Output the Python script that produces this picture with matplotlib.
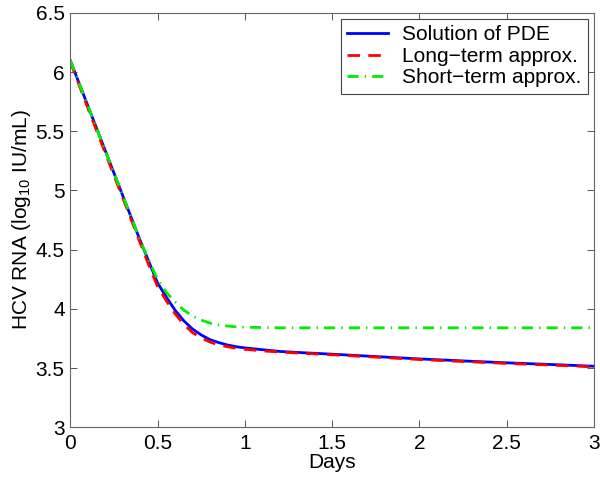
import matplotlib
matplotlib.use("Agg")
import matplotlib.pyplot as plt

plt.rcParams['font.family'] = ['Liberation Sans', 'DejaVu Sans']
plt.rcParams['mathtext.default'] = 'regular'

t = [0, 0.1, 0.2, 0.3, 0.4, 0.45, 0.5, 0.55, 0.6, 0.65, 0.7, 0.75, 0.8, 0.85,
     0.9, 0.95, 1.0, 1.1, 1.2, 1.35, 1.5, 1.75, 2.0, 2.25, 2.5, 2.75, 3.0]
pde = [6.10, 5.72, 5.34, 4.96, 4.58, 4.40, 4.22, 4.10, 3.99, 3.90, 3.83, 3.78,
       3.74, 3.715, 3.695, 3.68, 3.67, 3.655, 3.64, 3.628, 3.617, 3.597, 3.577,
       3.56, 3.544, 3.53, 3.515]
long_term = [6.09, 5.70, 5.32, 4.94, 4.56, 4.37, 4.19, 4.07, 3.96, 3.87, 3.80,
             3.755, 3.72, 3.695, 3.68, 3.667, 3.658, 3.645, 3.635, 3.623, 3.612,
             3.592, 3.572, 3.555, 3.539, 3.525, 3.51]
short_term = [6.10, 5.72, 5.34, 4.96, 4.58, 4.41, 4.25, 4.14, 4.06, 3.99, 3.94,
              3.905, 3.88, 3.865, 3.855, 3.848, 3.845, 3.842, 3.84, 3.84, 3.84,
              3.84, 3.84, 3.84, 3.84, 3.84, 3.84]

xticks = [0, 0.5, 1, 1.5, 2, 2.5, 3]
xticklabels = ['0', '0.5', '1', '1.5', '2', '2.5', '3']
yticks = [3, 3.5, 4, 4.5, 5, 5.5, 6, 6.5]
yticklabels = ['3', '3.5', '4', '4.5', '5', '5.5', '6', '6.5']

fig = plt.figure(figsize=(6, 4.8), dpi=100)
ax = fig.add_axes([0.117, 0.110, 0.873, 0.863])

ax.plot(t, pde, color='#0000ff', lw=2.0, ls='-', label='Solution of PDE')
ax.plot(t, long_term, color='#ff0000', lw=2.0, ls=(0, (4.5, 3)), label='Long\u2212term approx.')
ax.plot(t, short_term, color='#00ee00', lw=2.0, ls=(0, (4, 2.2, 0.5, 2.2)), label='Short\u2212term approx.')

ax.set_xlim(0, 3)
ax.set_ylim(3, 6.5)
ax.set_xticks(xticks)
ax.set_xticklabels(xticklabels)
ax.set_yticks(yticks)
ax.set_yticklabels(yticklabels)
ax.tick_params(direction='in', top=True, right=True, labelsize=15, length=5,
               width=0.7, color='#555555')
ax.tick_params(axis='y', pad=4)
ax.tick_params(axis='x', pad=5)
for s in ax.spines.values():
    s.set_color('#666666')
    s.set_linewidth(0.8)

ax.set_xlabel('Days', fontsize=15, labelpad=0)
ax.set_ylabel('HCV RNA (log$_{10}$ IU/mL)', fontsize=15, labelpad=2)

leg = ax.legend(loc='upper right', fontsize=15, fancybox=False, frameon=True,
                edgecolor='#444444', framealpha=1, borderaxespad=0.3,
                handlelength=1.95, labelspacing=0.12, borderpad=0.3, handletextpad=0.7)
leg.get_frame().set_linewidth(0.8)

fig.savefig('out.png', dpi=100)
